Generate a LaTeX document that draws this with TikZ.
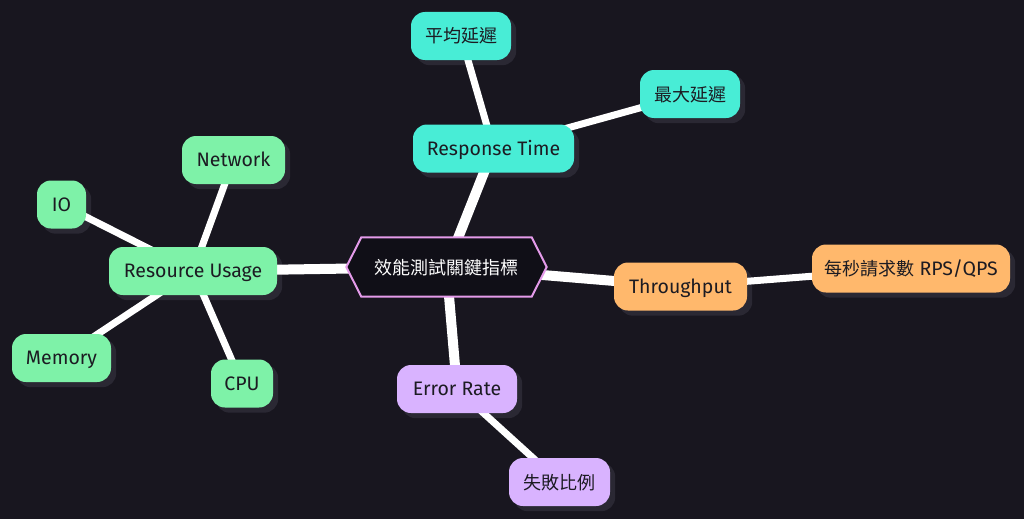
\documentclass[tikz,border=0pt]{standalone}
\usepackage{fontspec}
\setmainfont{Fira Sans}
\newfontfamily\cjk{Noto Sans CJK TC}
\usetikzlibrary{calc}
\definecolor{bg}{HTML}{18161F}
\definecolor{shadowc}{HTML}{2A2833}
\definecolor{teal}{HTML}{48EDD6}
\definecolor{mint}{HTML}{7EF2A8}
\definecolor{peach}{HTML}{FFB86C}
\definecolor{lilac}{HTML}{D9B3FF}
\definecolor{hexfill}{HTML}{100F17}
\definecolor{hexline}{HTML}{E49BEA}
\definecolor{ink}{HTML}{1C1B22}
\pgfdeclarelayer{bglayer}
\pgfdeclarelayer{shadowlayer}
\pgfdeclarelayer{edges}
\pgfdeclarelayer{hexlayer}
\pgfsetlayers{bglayer,shadowlayer,edges,hexlayer,main}
\tikzset{
  leaf/.style={rounded corners=14pt, minimum height=48pt, inner xsep=0pt,
    text=ink, font=\fontsize{19.5}{22}\selectfont, text height=13.4pt, text depth=0pt},
  rt/.style={leaf, fill=teal},
  ru/.style={leaf, fill=mint},
  tp/.style={leaf, fill=peach},
  er/.style={leaf, fill=lilac},
  cj/.style={font=\cjk\fontsize{18}{20}\selectfont, text height=15.5pt, text depth=1.5pt},
  thick1/.style={line width=10pt, white},
  thick2/.style={line width=7pt, white},
  shadowbox/.style={fill=shadowc, rounded corners=14pt},
}
\begin{document}
\begin{tikzpicture}[x=1pt,y=-1pt]
\begin{pgfonlayer}{bglayer}
\fill[bg] (0,0) rectangle (1024,519);
\end{pgfonlayer}
\useasboundingbox (0,0) rectangle (1024,519);

\node[minimum width=170pt, minimum height=59pt, inner sep=0pt, text=white, cj] (root) at (446.5,267) {效能測試關鍵指標};
\begin{pgfonlayer}{hexlayer}
\path[fill=hexfill, draw=hexline, line width=2pt]
  ($(root.west)+(-15,0)$) -- (root.north west) -- (root.north east) -- ($(root.east)+(15,0)$)
  -- (root.south east) -- (root.south west) -- cycle;
\end{pgfonlayer}

\node[rt, minimum width=161pt] (resp) at (493.5,148.5) {Response Time};
\node[rt, cj, minimum width=100pt] (avg) at (461,36) {平均延遲};
\node[rt, cj, minimum width=100pt] (max) at (690,94) {最大延遲};

\node[ru, minimum width=168pt] (res) at (193,271) {Resource Usage};
\node[ru, minimum width=103pt] (net) at (233.5,160) {Network};
\node[ru, minimum width=49pt] (io) at (61.5,204.5) {IO};
\node[ru, minimum width=99pt] (mem) at (61.5,358) {Memory};
\node[ru, minimum width=62pt] (cpu) at (242,383.5) {CPU};

\node[tp, minimum width=133pt] (thr) at (680.5,286.5) {Throughput};
\node[tp, minimum width=198pt] (rps) at (911,268.5) {{\cjk\fontsize{18}{20}\selectfont 每秒請求數} RPS/QPS};

\node[er, minimum width=120pt] (err) at (457,389) {Error Rate};
\node[er, cj, minimum width=101pt] (fail) at (559.5,482) {失敗比例};

\begin{pgfonlayer}{shadowlayer}
\foreach \n in {resp,avg,max,res,net,io,mem,cpu,thr,rps,err,fail}
  \path[shadowbox] ($(\n.north west)+(5,5)$) rectangle ($(\n.south east)+(5,5)$);
\end{pgfonlayer}

\begin{pgfonlayer}{edges}
\draw[thick1] (root.center) -- (resp.center);
\draw[thick1] (root.center) -- (res.center);
\draw[thick1] (root.center) -- (thr.center);
\draw[thick1] (root.center) -- (err.center);
\draw[thick2] (resp.center) -- (avg.center);
\draw[thick2] (resp.center) -- (max.center);
\draw[thick2] (res.center) -- (net.center);
\draw[thick2] (res.center) -- (io.center);
\draw[thick2] (res.center) -- (mem.center);
\draw[thick2] (res.center) -- (cpu.center);
\draw[thick2] (thr.center) -- (rps.center);
\draw[thick2] (err.center) -- (fail.center);
\end{pgfonlayer}
\end{tikzpicture}
\end{document}
